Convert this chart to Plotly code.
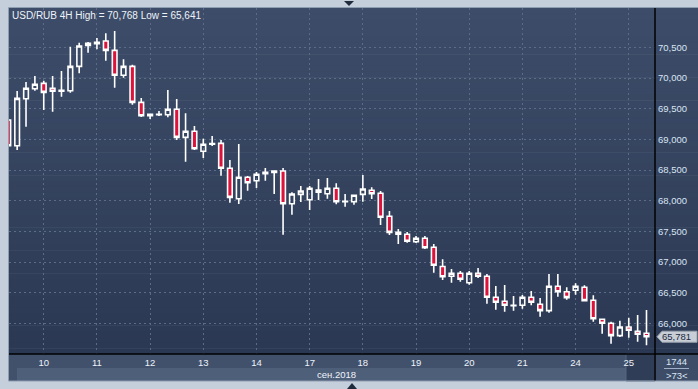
import plotly.graph_objects as go

# ---------------- data ----------------
symbol = "USD/RUB"
timeframe = "4H"
candle_index = list(range(73))

open_ = [69.317, 68.897, 69.664, 69.827, 69.915, 69.834, 69.785, 69.794, 70.192, 70.535,
         70.561, 70.605, 70.453, 70.046, 70.192, 69.605, 69.387, 69.403, 69.403, 69.491,
         69.034, 69.132, 68.806, 68.920, 68.936, 68.529, 68.033, 68.382, 68.326, 68.440,
         68.463, 68.484, 67.951, 68.104, 68.016, 68.174, 68.114, 68.202, 67.984, 67.984,
         68.104, 68.170, 68.121, 67.746, 67.484, 67.452, 67.331, 67.387, 67.240, 66.927,
         66.767, 66.816, 66.662, 66.816, 66.767, 66.424, 66.359, 66.287, 66.294, 66.424,
         66.310, 66.206, 66.604, 66.515, 66.538, 66.587, 66.375, 66.065, 66.000, 65.798,
         65.940, 65.869, 65.837]
high = [69.333, 69.790, 69.936, 70.034, 69.958, 70.034, 70.116, 70.512, 70.577, 70.589,
        70.654, 70.731, 70.768, 70.307, 70.219, 69.675, 69.419, 69.463, 69.806, 69.659,
        69.426, 69.219, 69.011, 69.055, 68.990, 68.664, 68.925, 68.403, 68.468, 68.533,
        68.493, 68.533, 68.137, 68.240, 68.240, 68.354, 68.370, 68.284, 68.109, 68.093,
        68.419, 68.219, 68.158, 67.832, 67.538, 67.489, 67.424, 67.424, 67.294, 67.044,
        66.886, 66.853, 66.853, 66.902, 66.804, 66.608, 66.625, 66.445, 66.462, 66.527,
        66.413, 66.804, 66.804, 66.587, 66.653, 66.620, 66.457, 66.065, 66.026, 66.042,
        66.091, 66.135, 66.217]
low = [68.892, 68.827, 69.207, 69.794, 69.480, 69.452, 69.697, 69.762, 70.078, 70.414,
       70.470, 70.284, 69.843, 70.006, 69.566, 69.365, 69.333, 69.382, 69.361, 68.990,
       68.636, 68.827, 68.697, 68.892, 68.408, 67.967, 67.946, 68.163, 68.207, 68.326,
       68.109, 67.445, 67.772, 67.979, 67.848, 68.011, 68.033, 67.941, 67.902, 67.935,
       67.984, 68.028, 67.604, 67.440, 67.294, 67.315, 67.310, 67.212, 66.825, 66.706,
       66.662, 66.679, 66.630, 66.739, 66.320, 66.222, 66.189, 66.206, 66.238, 66.294,
       66.108, 66.173, 66.434, 66.385, 66.467, 66.364, 66.026, 65.830, 65.667, 65.777,
       65.765, 65.700, 65.641]
close = [68.897, 69.670, 69.834, 69.899, 69.768, 69.785, 69.801, 70.192, 70.524, 70.568,
         70.584, 70.453, 70.046, 70.192, 69.605, 69.387, 69.409, 69.409, 69.491, 69.034,
         69.132, 68.848, 68.920, 68.933, 68.529, 68.055, 68.382, 68.294, 68.431, 68.463,
         68.484, 67.951, 68.109, 68.158, 68.202, 68.137, 68.202, 67.984, 67.990, 68.088,
         68.191, 68.114, 67.729, 67.484, 67.452, 67.338, 67.387, 67.233, 66.946, 66.760,
         66.816, 66.718, 66.816, 66.767, 66.424, 66.343, 66.294, 66.294, 66.424, 66.343,
         66.206, 66.604, 66.515, 66.418, 66.604, 66.369, 66.075, 66.000, 65.798, 65.940,
         65.886, 65.821, 65.781]

day_tick_index = [4, 10, 16, 22, 28, 34, 40, 46, 52, 58, 64, 70]
day_labels = ["10", "11", "12", "13", "14", "17", "18", "19", "20", "21", "24", "25"]
month_label = "сен.2018"
price_ticks = [66.0, 66.5, 67.0, 67.5, 68.0, 68.5, 69.0, 69.5, 70.0, 70.5]
price_labels = ["66,000", "66,500", "67,000", "67,500", "68,000",
                "68,500", "69,000", "69,500", "70,000", "70,500"]
bars_info = "1744"


def fmt(v):
    return f"{v:.3f}".replace(".", ",")


last_price = close[-1]
title_text = f"{symbol} {timeframe} High = {fmt(max(high))} Low = {fmt(min(low))}"

# ---------------- layout geometry (pixels) ----------------
W, H = 698, 389
L, R, T, B = 9, 655, 8, 354
X_RANGE = [0.08, 72.96]
Y_RANGE = [65.499, 71.144]


def px(xp):
    return (xp - L) / (R - L)


def py(yp):
    return (B - yp) / (B - T)


def price_to_py(p):
    return (p - Y_RANGE[0]) / (Y_RANGE[1] - Y_RANGE[0])


def lerp_color(c1, c2, t):
    a = [int(c1[i:i + 2], 16) for i in (1, 3, 5)]
    b = [int(c2[i:i + 2], 16) for i in (1, 3, 5)]
    return "#" + "".join(f"{round(a[k] + (b[k] - a[k]) * t):02x}" for k in range(3))


shapes = []
# gradient background of chart + price panel
N = 60
top_c, bot_c = "#3d4d69", "#2b3853"
for k in range(N):
    y0 = T + (B - T) * k / N
    y1 = T + (B - T) * (k + 1) / N + 0.6
    shapes.append(dict(type="rect", xref="paper", yref="paper", layer="below",
                       x0=px(L), x1=px(W), y0=py(y1), y1=py(y0),
                       fillcolor=lerp_color(top_c, bot_c, (k + 0.5) / N), line_width=0))
# date label strip
shapes.append(dict(type="rect", xref="paper", yref="paper", layer="below",
                   x0=px(L), x1=px(W), y0=py(381), y1=py(B),
                   fillcolor="#41516c", line_width=0))
# scrollbar strip
shapes.append(dict(type="rect", xref="paper", yref="paper", layer="below",
                   x0=px(17), x1=px(R), y0=py(381), y1=py(368),
                   fillcolor="#4e5f7a", line_width=0))
# scrollbar thumb
shapes.append(dict(type="rect", xref="paper", yref="paper", layer="below",
                   x0=px(626), x1=px(R), y0=py(381), y1=py(B),
                   fillcolor="#2f3d57", line=dict(color="#56667f", width=1)))
# right-bottom info panel
shapes.append(dict(type="rect", xref="paper", yref="paper", layer="below",
                   x0=px(R), x1=px(W), y0=py(381), y1=py(B),
                   fillcolor="#3d4c67", line_width=0))
shapes.append(dict(type="line", xref="paper", yref="paper", layer="above",
                   x0=px(664), x1=px(689), y0=py(368.5), y1=py(368.5),
                   line=dict(color="#9fb0c8", width=1)))
# black separators
shapes.append(dict(type="line", xref="paper", yref="paper", layer="above",
                   x0=px(R), x1=px(R), y0=py(381), y1=py(T),
                   line=dict(color="#000000", width=1.5)))
shapes.append(dict(type="line", xref="paper", yref="paper", layer="above",
                   x0=px(L), x1=px(W), y0=py(B), y1=py(B),
                   line=dict(color="#000000", width=1.5)))
# outer frame border
shapes.append(dict(type="rect", xref="paper", yref="paper", layer="above",
                   x0=px(8.5), x1=px(W + 2), y0=py(381), y1=py(7.5),
                   line=dict(color="#8f9db0", width=1), fillcolor="rgba(0,0,0,0)"))
# last price marker
yp = price_to_py(last_price)
ypix = B - yp * (B - T)
shapes.append(dict(type="path", xref="paper", yref="paper", layer="above",
                   path=(f"M {px(657)},{py(ypix)} L {px(662)},{py(ypix - 5.5)} "
                         f"L {px(697)},{py(ypix - 5.5)} L {px(697)},{py(ypix + 5.5)} "
                         f"L {px(662)},{py(ypix + 5.5)} Z"),
                   fillcolor="#c9ced6", line=dict(color="#9aa3af", width=1)))
# small triangles on the outer frame
shapes.append(dict(type="path", xref="paper", yref="paper", layer="above",
                   path=f"M {px(344)},{py(1)} L {px(354)},{py(1)} L {px(349)},{py(6)} Z",
                   fillcolor="#1f2b3d", line_width=0))
shapes.append(dict(type="path", xref="paper", yref="paper", layer="above",
                   path=f"M {px(347)},{py(389)} L {px(357)},{py(389)} L {px(352)},{py(383)} Z",
                   fillcolor="#1f2b3d", line_width=0))

FONT = "Liberation Sans, Arial, sans-serif"
annotations = [
    dict(text=title_text, xref="paper", yref="paper", x=px(10), y=py(15.5),
         xanchor="left", yanchor="middle", showarrow=False,
         font=dict(family=FONT, size=10, color="#eef3fa")),
    dict(text=month_label, xref="paper", yref="paper", x=px(336.5), y=py(374),
         xanchor="center", yanchor="middle", showarrow=False,
         font=dict(family=FONT, size=9.5, color="#eef3fa")),
    dict(text=fmt(last_price), xref="paper", yref="paper", x=px(660), y=yp,
         xanchor="left", yanchor="middle", showarrow=False,
         font=dict(family=FONT, size=9.5, color="#1b2a42")),
    dict(text=bars_info, xref="paper", yref="paper", x=px(676.5), y=py(361.5),
         xanchor="center", yanchor="middle", showarrow=False,
         font=dict(family=FONT, size=9.5, color="#dbe6f5")),
    dict(text=f"&gt;{len(candle_index)}&lt;", xref="paper", yref="paper", x=px(676.5), y=py(375),
         xanchor="center", yanchor="middle", showarrow=False,
         font=dict(family=FONT, size=9.5, color="#dbe6f5")),
]

fig = go.Figure(go.Candlestick(
    x=candle_index, open=open_, high=high, low=low, close=close,
    increasing=dict(line=dict(color="#ffffff", width=1.6), fillcolor="rgba(0,0,0,0)"),
    decreasing=dict(line=dict(color="#ffffff", width=1.6), fillcolor="#dc143c"),
    whiskerwidth=0, hoverinfo="skip", showlegend=False,
))

GRID = "#5c6b86"
fig.update_layout(
    width=W, height=H, autosize=False,
    margin=dict(l=L, r=W - R, t=T, b=H - B, pad=0),
    paper_bgcolor="#c5cfdc", plot_bgcolor="rgba(0,0,0,0)",
    boxgap=0.25,
    shapes=shapes, annotations=annotations,
    xaxis=dict(range=X_RANGE, rangeslider=dict(visible=False), tickmode="array",
               tickvals=day_tick_index, ticktext=day_labels, showgrid=True,
               gridcolor=GRID, griddash="2px,3px", gridwidth=1, zeroline=False,
               showline=False, ticks="", ticklabelstandoff=1,
               tickfont=dict(family=FONT, size=9.5, color="#eef3fa"), fixedrange=True),
    yaxis=dict(range=Y_RANGE, side="right", tickmode="array", tickvals=price_ticks,
               ticktext=price_labels, showgrid=True, gridcolor=GRID, griddash="2px,3px",
               gridwidth=1, zeroline=False, showline=False, ticks="",
               ticklabelstandoff=2,
               tickfont=dict(family=FONT, size=9.5, color="#d8e4f4"), fixedrange=True),
    font=dict(family=FONT),
)

fig.write_html("out.html", config={"displayModeBar": False},
               post_script="document.body.style.margin='0';document.body.style.overflow='hidden';")
